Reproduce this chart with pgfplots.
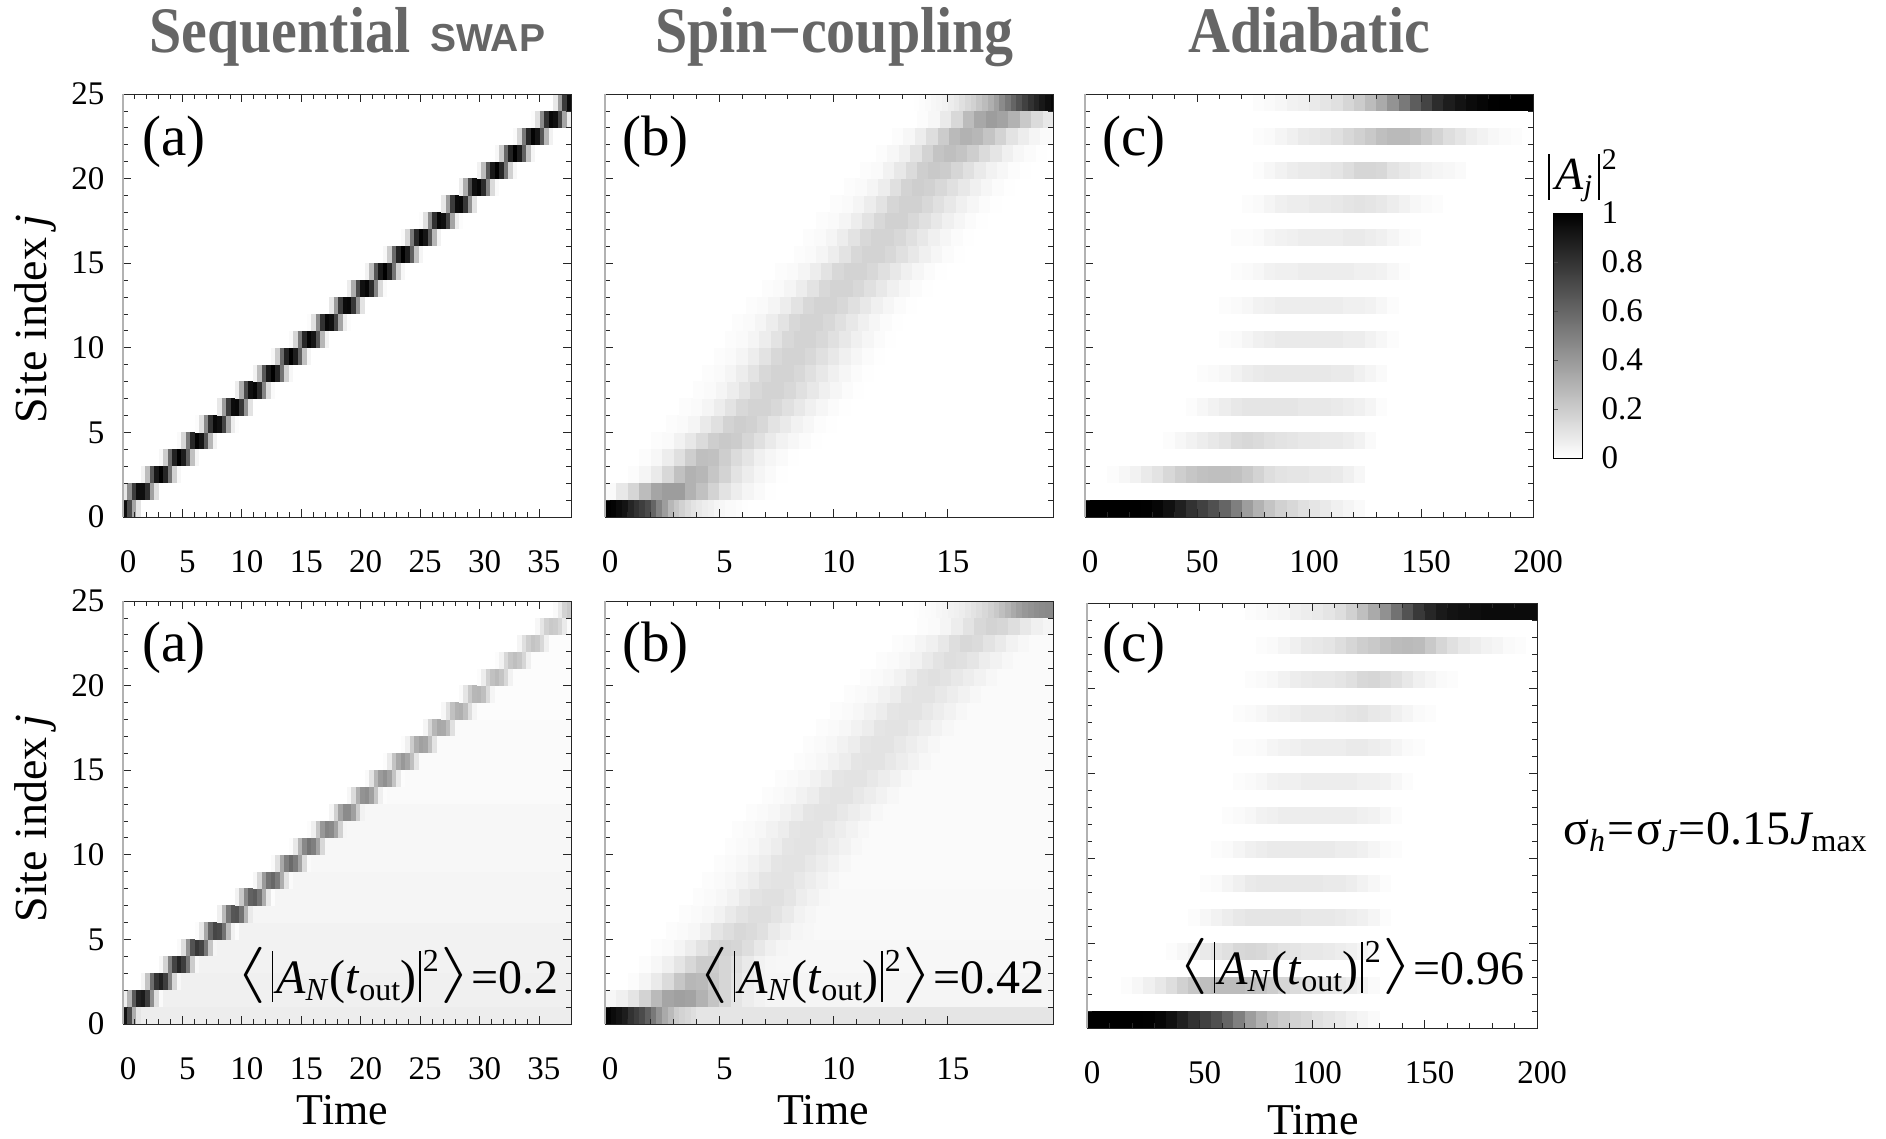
\documentclass[border=0pt]{standalone}
\usepackage{fontspec}
\usepackage{pgfplots}
\pgfplotsset{compat=1.18}
\setmainfont{Liberation Serif}
\newfontfamily\sansf{Liberation Sans}
\newcommand\F[1]{\fontsize{#1}{#1}\selectfont}
\newcommand\lw{17.2pt}
\newcommand\R[4]{\addplot[mesh,shader=flat corner,point meta=explicit,line width=\lw,forget plot] table[x expr={(#2+\coordindex)*#3},y expr={#1+0.5},meta index=0,row sep=crcr]{#4\\};}
\newcommand\B[3]{\addplot[mesh,shader=flat corner,point meta=explicit,line width=\lw,forget plot] coordinates {(#2,#1.5)[#3] (210,#1.5)[#3]};}
\newcommand\Bar{\rule[-8pt]{1.6pt}{51pt}}
\newcommand\Avg[1]{\F{48}\raisebox{4.5pt}{\scalebox{3.2}[2.26]{$\langle$}}\hspace{5pt}\Bar\hspace{3pt}{\itshape A}\raisebox{-7pt}{\F{32}\itshape N}\hspace{3pt}({\itshape t}\raisebox{-7pt}{\F{32}out})\hspace{3pt}\Bar\hspace{2pt}\raisebox{22pt}{\F{32}2}\hspace{2pt}\raisebox{4.5pt}{\scalebox{3.2}[2.26]{$\rangle$}}=#1}
\pgfplotsset{
  colormap={bw}{gray(0cm)=(1); gray(1cm)=(0)},
  /pgf/number format/assume math mode=true,
  tick label style={font=\F{33}},
  panel/.style={scale only axis,axis on top,anchor=south west,xmin=0,ymin=0,ymax=25,
    ytick={0,5,...,25},minor y tick num=4,minor x tick num=4,point meta min=0,point meta max=100,
    tick align=inside,major tick length=8pt,minor tick length=5pt,
    tick style={line width=0.8pt,black!85},axis line style={line width=0.9pt,black!85},
    xticklabel style={anchor=center,yshift=-45pt,xshift=5pt},
    yticklabel style={anchor=east,xshift=-15pt},
    every axis x label/.style={anchor=center,inner sep=0pt,font=\F{44}},
    every axis y label/.style={anchor=center,inner sep=0pt,rotate=90,font=\F{46}},
    extra description/.code={\draw[line width=1.2pt,black!30] (axis description cs:0,0)--(axis description cs:0,1);}},
  ta/.style={xmax=37.7,xtick={0,5,...,35}},
  tb/.style={xmax=19.6,xtick={0,5,10,15}},
  tc/.style={xmax=200,xtick={0,50,...,200}},
}
\begin{document}
\begin{tikzpicture}
\useasboundingbox (0,0) rectangle (1886pt,1139pt);
% ---------- top (a)
\begin{axis}[panel,ta,at={(123pt,622pt)},width=448pt,height=423pt,ylabel={Site index\hspace{10pt}{\itshape j}},
  every axis y label/.append style={at={(axis description cs:-0.195,0.468)}}]
\R{0}{0}{0.377}{94\\70\\35\\10\\0}
\R{1}{0}{0.377}{9\\44\\75\\94\\94\\81\\37\\12\\0}
\R{2}{4}{0.377}{5\\26\\65\\90\\99\\85\\54\\18\\3\\0}
\R{3}{8}{0.377}{3\\20\\58\\86\\100\\88\\62\\24\\4\\0}
\R{4}{12}{0.377}{2\\16\\52\\84\\98\\91\\66\\28\\5\\0}
\R{5}{16}{0.377}{1\\12\\45\\80\\96\\93\\73\\35\\7\\1\\0}
\R{6}{21}{0.377}{9\\38\\76\\95\\96\\78\\42\\11\\0}
\R{7}{25}{0.377}{7\\32\\70\\93\\97\\82\\48\\14\\2\\0}
\R{8}{29}{0.377}{5\\26\\65\\90\\99\\85\\54\\18\\3\\0}
\R{9}{33}{0.377}{3\\20\\58\\86\\100\\88\\62\\24\\4\\0}
\R{10}{37}{0.377}{2\\16\\52\\84\\98\\91\\66\\28\\5\\0}
\R{11}{41}{0.377}{1\\12\\45\\80\\96\\93\\73\\35\\7\\1\\0}
\R{12}{46}{0.377}{9\\38\\76\\95\\96\\78\\42\\11\\0}
\R{13}{50}{0.377}{7\\32\\70\\93\\97\\82\\48\\14\\2\\0}
\R{14}{54}{0.377}{5\\26\\65\\90\\99\\85\\54\\18\\3\\0}
\R{15}{58}{0.377}{3\\20\\58\\86\\100\\88\\62\\24\\4\\0}
\R{16}{62}{0.377}{2\\16\\52\\84\\98\\91\\66\\28\\5\\0}
\R{17}{66}{0.377}{1\\12\\45\\80\\96\\93\\73\\35\\7\\1\\0}
\R{18}{71}{0.377}{9\\38\\76\\95\\96\\78\\42\\11\\0}
\R{19}{75}{0.377}{7\\32\\70\\93\\97\\82\\48\\14\\2\\0}
\R{20}{79}{0.377}{5\\26\\65\\90\\99\\85\\54\\18\\3\\0}
\R{21}{83}{0.377}{3\\20\\58\\86\\100\\88\\62\\24\\4\\0}
\R{22}{87}{0.377}{2\\16\\52\\84\\98\\91\\66\\28\\5\\0}
\R{23}{91}{0.377}{1\\12\\45\\80\\96\\93\\73\\35\\7\\1\\0}
\R{24}{96}{0.377}{9\\38\\76\\95\\0}
\end{axis}
% ---------- top (b)
\begin{axis}[panel,tb,at={(605pt,622pt)},width=448pt,height=423pt,yticklabels={}]
\R{0}{0}{0.25}{100\\98\\95\\92\\85\\80\\75\\70\\60\\48\\38\\28\\22\\18\\14\\11\\9\\7\\6\\4\\3\\2\\2\\1\\0.5\\0}
\R{1}{0}{0.5}{2\\9\\16\\26\\35\\38\\38\\30\\24\\17\\11\\7\\4\\2\\0.5\\0}
\R{2}{2}{0.5}{1\\4\\8\\15\\24\\30\\28\\22\\17\\11\\7\\4\\2\\0.5\\0}
\R{3}{3}{0.5}{1\\3\\7\\12\\19\\25\\24\\19\\14\\10\\6\\3.5\\2\\0.5\\0}
\R{4}{4}{0.5}{1\\2\\5\\9\\14\\19\\21\\20\\16\\12\\8\\5\\3\\1.5\\0.5\\0}
\R{5}{5.3}{0.5}{1\\2\\4\\8\\12\\17\\19\\18\\15\\11\\8\\5\\3\\1\\0.5\\0}
\R{6}{6.5}{0.5}{1\\2\\4\\7\\11\\15\\17\\17\\15\\12\\9\\6\\3.5\\1.5\\0.5\\0}
\R{7}{7.7}{0.5}{1\\2\\4\\7\\11\\15\\17\\17\\15\\12\\9\\6\\3.5\\1.5\\0.5\\0}
\R{8}{8.5}{0.5}{1\\2\\4\\7\\11\\15\\17\\17\\15\\12\\9\\6\\3.5\\1.5\\0.5\\0}
\R{9}{9.5}{0.5}{1\\2\\4\\7\\11\\15\\17\\17\\15\\12\\9\\6\\3.5\\1.5\\0.5\\0}
\R{10}{10.5}{0.5}{1\\2\\4\\7\\11\\15\\17\\17\\15\\12\\9\\6\\3.5\\1.5\\0.5\\0}
\R{11}{11.1}{0.5}{1\\2\\4\\7\\11\\15\\17\\17\\15\\12\\9\\6\\3.5\\1.5\\0.5\\0}
\R{12}{12.3}{0.5}{1\\2\\4\\7\\11\\15\\17\\17\\15\\12\\9\\6\\3.5\\1.5\\0.5\\0}
\R{13}{13.7}{0.5}{1\\2\\4\\7\\11\\15\\17\\17\\15\\12\\9\\6\\3.5\\1.5\\0.5\\0}
\R{14}{14.9}{0.5}{1\\2\\4\\7\\11\\15\\17\\17\\15\\12\\9\\6\\3.5\\1.5\\0.5\\0}
\R{15}{16.5}{0.5}{1\\2\\4\\7\\11\\15\\17\\17\\15\\12\\9\\6\\3.5\\1.5\\0.5\\0}
\R{16}{17.3}{0.5}{1\\2\\4\\7\\11\\15\\17\\17\\15\\12\\9\\6\\3.5\\1.5\\0.5\\0}
\R{17}{18.5}{0.5}{1\\2\\4\\7\\11\\15\\18\\18\\15\\12\\9\\6\\3.5\\1.5\\0.5\\0}
\R{18}{19.7}{0.5}{1\\2\\4\\7\\11\\16\\18\\18\\15\\12\\9\\6\\3.5\\1.5\\0.5\\0}
\R{19}{20.9}{0.5}{1\\2\\4\\7\\12\\17\\19\\18\\15\\12\\9\\6\\3.5\\1.5\\0.5\\0}
\R{20}{22.3}{0.5}{1\\2\\5\\9\\14\\19\\21\\20\\16\\12\\8\\5\\3\\1\\0.5\\0}
\R{21}{23.7}{0.5}{1\\3\\6\\11\\17\\23\\25\\23\\19\\14\\10\\6\\3\\1.5\\0.5\\0}
\R{22}{25.1}{0.5}{1\\3\\7\\13\\20\\27\\30\\28\\23\\17\\11\\7\\4\\2\\0.5\\0}
\R{23}{27.3}{0.5}{1\\3\\8\\15\\26\\34\\38\\36\\30\\21\\14\\9\\5\\2\\0.5\\0}
\R{24}{54}{0.25}{0.5\\1\\2\\3\\4\\5\\7\\9\\12\\15\\18\\22\\26\\31\\37\\45\\52\\60\\67\\74\\80\\85\\90\\94\\97\\100\\100}
\end{axis}
% ---------- top (c)
\begin{axis}[panel,tc,at={(1085pt,622pt)},width=448pt,height=423pt,yticklabels={}]
\R{0}{0}{5}{100\\100\\100\\100\\100\\99\\97\\93\\87\\80\\74\\68\\60\\50\\38\\30\\23\\18\\15\\12\\10\\8\\6\\4\\2\\0}
\R{2}{2}{5}{1\\3\\5\\8\\11\\15\\19\\22\\24\\25\\25\\24\\21\\17\\13\\11\\10\\10\\9\\9\\8\\6\\3\\0}
\R{4}{7}{5}{1\\3\\5\\7\\9\\11\\14\\15\\14\\12\\11\\10\\9\\9\\8\\8\\7\\5\\2\\0}
\R{6}{9}{5}{1\\3\\5\\7\\9\\10\\10\\10\\10\\10\\9\\9\\9\\8\\7\\6\\4\\1\\0}
\R{8}{10}{5}{1\\2\\3\\5\\7\\8\\9\\9\\9\\9\\9\\9\\8\\8\\6\\4\\2\\0}
\R{10}{12}{5}{1\\2\\4\\6\\7\\8\\8\\8\\8\\8\\8\\7\\7\\5\\3\\1\\0}
\R{12}{12}{5}{1\\2\\3\\5\\6\\7\\7\\7\\7\\7\\7\\6\\6\\5\\3\\1\\0}
\R{14}{13}{5}{1\\2\\3\\5\\6\\6\\7\\7\\7\\7\\7\\6\\6\\5\\3\\1\\0}
\R{16}{13}{5}{1\\1\\2\\4\\5\\6\\7\\7\\7\\7\\8\\8\\7\\6\\4\\2\\1\\0}
\R{18}{14}{5}{1\\2\\4\\6\\7\\7\\8\\8\\9\\10\\11\\10\\9\\7\\5\\3\\2\\1\\0}
\R{20}{15}{5}{1\\3\\5\\7\\8\\8\\9\\10\\13\\16\\16\\15\\11\\9\\7\\5\\4\\3\\2\\0}
\R{22}{15}{5}{1\\2\\4\\6\\8\\9\\10\\12\\15\\18\\21\\25\\27\\27\\25\\21\\17\\13\\10\\7\\5\\3\\2\\1\\0}
\R{24}{15}{5}{1\\2\\3\\5\\6\\8\\10\\12\\16\\20\\26\\33\\42\\52\\63\\73\\82\\88\\92\\95\\97\\99\\100\\100\\100\\100}
\end{axis}
% ---------- colour bar
\begin{axis}[scale only axis,axis on top,anchor=south west,at={(1553pt,681pt)},width=29pt,height=245pt,
  xmin=0,xmax=1,ymin=0,ymax=1,xtick=\empty,ytick={0,0.2,0.4,0.6,0.8,1},yticklabels={0,0.2,0.4,0.6,0.8,1},
  ytick pos=left,yticklabel pos=right,tick align=inside,major tick length=5pt,
  yticklabel style={anchor=west,xshift=16pt},point meta min=0,point meta max=100,
  axis line style={line width=0.8pt},tick style={black!70,line width=0.8pt}]
\addplot[surf,shader=interp,mesh/cols=2,point meta=explicit] coordinates {(0,0)[0] (1,0)[0] (0,1)[100] (1,1)[100]};
\end{axis}
% ---------- bottom (a)
\begin{axis}[panel,ta,at={(123pt,115pt)},width=448pt,height=423pt,xlabel={Time},ylabel={Site index\hspace{10pt}{\itshape j}},
  every axis x label/.append style={at={(axis description cs:0.49,-0.203)}},
  every axis y label/.append style={at={(axis description cs:-0.195,0.486)}}]
\B{0}{0.5}{7}\B{1}{1.5}{6}\B{2}{3}{6}\B{3}{4.5}{5}\B{4}{6}{5}\B{5}{7.5}{5}\B{6}{9.4}{4}\B{7}{11}{4}\B{8}{12.5}{4}\B{9}{14}{3}\B{10}{15.5}{3}\B{11}{17}{3}\B{12}{19}{3}\B{13}{20.5}{2}\B{14}{22}{2}\B{15}{23.5}{2}\B{16}{25}{2}\B{17}{26.5}{2}\B{18}{28}{1}\B{19}{30}{1}\B{20}{31.5}{1}\B{21}{33}{1}\B{22}{34.5}{1}
\R{0}{0}{0.377}{92\\70\\32\\10\\0}
\R{1}{0}{0.377}{6\\29\\64\\86\\89\\75\\44\\13\\2\\0}
\R{2}{4}{0.377}{4\\23\\57\\79\\87\\75\\48\\16\\3\\0}
\R{3}{8}{0.377}{3\\17\\49\\73\\85\\75\\53\\20\\3\\0}
\R{4}{12}{0.377}{2\\13\\42\\67\\78\\73\\53\\22\\4\\0}
\R{5}{16}{0.377}{1\\9\\34\\60\\72\\70\\55\\26\\5\\1\\0}
\R{6}{21}{0.377}{6\\27\\53\\66\\67\\55\\29\\8\\0}
\R{7}{25}{0.377}{5\\21\\46\\61\\64\\54\\32\\9\\1\\0}
\R{8}{29}{0.377}{3\\16\\39\\54\\59\\51\\32\\11\\2\\0}
\R{9}{33}{0.377}{2\\12\\34\\50\\58\\51\\36\\14\\2\\0}
\R{10}{37}{0.377}{1\\9\\29\\46\\54\\50\\36\\15\\3\\0}
\R{11}{41}{0.377}{1\\6\\22\\40\\48\\46\\36\\18\\4\\0}
\R{12}{46}{0.377}{4\\18\\36\\45\\45\\37\\20\\5\\0}
\R{13}{50}{0.377}{3\\14\\31\\42\\44\\37\\22\\6\\1\\0}
\R{14}{54}{0.377}{2\\11\\28\\39\\43\\37\\23\\8\\1\\0}
\R{15}{58}{0.377}{1\\8\\23\\34\\40\\35\\25\\10\\2\\0}
\R{16}{62}{0.377}{1\\6\\20\\32\\37\\35\\25\\11\\2\\0}
\R{17}{66}{0.377}{0\\4\\16\\28\\34\\33\\26\\12\\2\\0}
\R{18}{71}{0.377}{3\\12\\24\\30\\31\\25\\13\\4\\0}
\R{19}{75}{0.377}{2\\10\\21\\28\\29\\25\\14\\4\\1\\0}
\R{20}{79}{0.377}{1\\7\\18\\24\\27\\23\\15\\5\\1\\0}
\R{21}{83}{0.377}{1\\5\\15\\22\\25\\22\\16\\6\\1\\0}
\R{22}{87}{0.377}{0\\4\\12\\19\\23\\21\\15\\6\\1\\0}
\R{23}{91}{0.377}{0\\3\\10\\18\\21\\20\\16\\8\\2\\0}
\R{24}{96}{0.377}{2\\8\\17\\21\\21}
\end{axis}
% ---------- bottom (b)
\begin{axis}[panel,tb,at={(605pt,115pt)},width=448pt,height=423pt,xlabel={Time},yticklabels={},
  every axis x label/.append style={at={(axis description cs:0.487,-0.203)}}]
\B{0}{3}{10}\B{1}{5}{4}\B{2}{4}{4}\B{3}{4.5}{3}\B{4}{5}{3}\B{5}{6}{2.5}\B{6}{6.5}{2.5}\B{7}{7}{2.5}\B{8}{7.5}{2}\B{9}{8}{2}\B{10}{8.5}{2}\B{11}{9}{2}\B{12}{9.5}{2}\B{13}{10}{2}\B{14}{10.5}{2}\B{15}{11.5}{2}\B{16}{12}{2}\B{17}{12.5}{2}\B{18}{13}{2}\B{19}{13.5}{2}\B{20}{14.5}{2}\B{21}{15}{2}\B{22}{16}{2}\B{23}{17}{2.5}
\R{0}{0}{0.25}{98\\95\\92\\88\\80\\75\\70\\62\\52\\42\\33\\27\\20\\17\\15\\13\\12}
\R{1}{0}{0.5}{3\\6\\10\\17\\27\\35\\37\\36\\30\\23\\16\\10\\7\\5\\4}
\R{2}{2}{0.5}{1\\4\\8\\14\\22\\28\\27\\21\\16\\11\\7\\5\\4\\4}
\R{3}{3}{0.5}{1\\3\\6\\10\\15\\20\\20\\16\\12\\8\\5\\3.5\\3\\3}
\R{4}{4}{0.5}{1\\2\\4\\7\\11\\15\\17\\16\\13\\9\\6\\4\\3\\3}
\R{5}{5.3}{0.5}{1\\2\\3\\6\\10\\13\\15\\14\\12\\8\\6\\4\\3\\3}
\R{6}{6.5}{0.5}{1\\2\\3\\5\\8\\11\\13\\13\\11\\8\\5\\3.5\\2.5\\2.5}
\R{7}{7.7}{0.5}{1\\2\\3\\5\\8\\11\\12\\12\\10\\7\\5\\3\\2.5\\2.5}
\R{8}{8.5}{0.5}{1\\2\\3\\5\\7\\10\\11\\11\\9\\7\\5\\3\\2\\2}
\R{9}{9.5}{0.5}{1\\2\\3\\5\\7\\10\\11\\11\\9\\7\\5\\3\\2\\2}
\R{10}{10.5}{0.5}{1\\2\\3\\5\\7\\10\\11\\11\\9\\7\\5\\3\\2\\2}
\R{11}{11.1}{0.5}{1\\2\\3\\5\\7\\10\\11\\11\\9\\7\\5\\3\\2\\2}
\R{12}{12.3}{0.5}{1\\2\\3\\5\\7\\10\\11\\11\\9\\7\\5\\3\\2\\2}
\R{13}{13.7}{0.5}{1\\2\\3\\5\\7\\10\\11\\11\\9\\7\\5\\3\\2\\2}
\R{14}{14.9}{0.5}{1\\2\\3\\5\\7\\10\\11\\11\\9\\7\\5\\3\\2\\2}
\R{15}{16.5}{0.5}{1\\2\\3\\5\\7\\10\\11\\11\\9\\7\\5\\3\\2\\2}
\R{16}{17.3}{0.5}{1\\2\\3\\5\\7\\10\\11\\11\\9\\7\\5\\3\\2\\2}
\R{17}{18.5}{0.5}{1\\2\\3\\5\\7\\10\\11\\11\\9\\7\\5\\3\\2\\2}
\R{18}{19.7}{0.5}{1\\2\\3\\5\\7\\10\\11\\11\\9\\7\\5\\3\\2\\2}
\R{19}{20.9}{0.5}{1\\2\\3\\5\\7\\10\\11\\11\\9\\7\\5\\3\\2\\2}
\R{20}{22.3}{0.5}{1\\2\\3\\5\\8\\11\\12\\11\\9\\7\\5\\3\\2\\2}
\R{21}{23.7}{0.5}{1\\2\\3\\5\\8\\11\\13\\12\\10\\7\\5\\3\\2\\2}
\R{22}{25.1}{0.5}{1\\2\\4\\6\\9\\13\\15\\14\\11\\8\\5\\3\\2\\2}
\R{23}{27.3}{0.5}{1\\2\\4\\7\\11\\15\\17\\16\\13\\9\\6\\4\\3\\3}
\R{24}{54}{0.25}{0.5\\1\\1.5\\2\\3\\4\\5\\6\\7\\9\\11\\13\\15\\18\\21\\25\\29\\33\\37\\40\\42\\44\\45\\46\\46\\46}
\end{axis}
% ---------- bottom (c)
\renewcommand\lw{17.4pt}
\begin{axis}[panel,tc,at={(1087pt,111pt)},width=450pt,height=425pt,xlabel={Time},yticklabels={},
  every axis x label/.append style={at={(axis description cs:0.502,-0.216)}}]
\R{0}{0}{5}{100\\100\\100\\100\\100\\99\\97\\93\\87\\80\\74\\68\\60\\50\\38\\30\\24\\20\\17\\15\\12\\10\\8\\6\\4\\2\\0}
\R{2}{3}{5}{1\\3\\6\\9\\13\\18\\22\\25\\26\\26\\26\\25\\23\\20\\16\\14\\12\\11\\10\\9\\7\\5\\2\\0}
\R{4}{7}{5}{1\\3\\5\\8\\10\\12\\15\\16\\15\\13\\11\\10\\9\\9\\8\\7\\6\\4\\2\\0}
\R{6}{9}{5}{1\\3\\5\\7\\9\\10\\10\\10\\10\\10\\9\\9\\9\\8\\7\\6\\4\\1\\0}
\R{8}{10}{5}{1\\2\\4\\6\\8\\9\\9\\9\\9\\9\\9\\8\\8\\7\\5\\3\\1\\0}
\R{10}{11}{5}{1\\2\\4\\6\\7\\8\\8\\8\\8\\8\\8\\7\\7\\6\\4\\2\\1\\0}
\R{12}{12}{5}{1\\2\\3\\5\\6\\7\\7\\7\\7\\7\\7\\7\\6\\5\\3\\1\\0}
\R{14}{13}{5}{1\\2\\3\\5\\6\\6\\7\\7\\7\\7\\7\\6\\6\\5\\3\\1\\0}
\R{16}{13}{5}{1\\1\\2\\4\\5\\6\\7\\7\\7\\7\\8\\8\\7\\6\\4\\2\\1\\0}
\R{18}{13}{5}{1\\2\\3\\5\\6\\7\\8\\8\\8\\9\\10\\11\\9\\8\\6\\4\\2\\1\\0}
\R{20}{14}{5}{1\\2\\3\\5\\7\\8\\9\\9\\10\\12\\15\\16\\14\\12\\9\\6\\4\\2\\1\\0}
\R{22}{15}{5}{1\\2\\4\\6\\8\\9\\10\\13\\16\\19\\21\\24\\26\\27\\26\\21\\16\\12\\9\\7\\5\\4\\2\\1\\0}
\R{24}{14}{5}{1\\2\\3\\4\\6\\7\\8\\10\\13\\18\\25\\33\\43\\55\\67\\77\\84\\89\\92\\93\\94\\95\\95\\95\\95\\95\\95}
\end{axis}
% ---------- text
\node[anchor=base west,inner sep=0,text=black!60] at (149pt,1086pt) {\scalebox{1}[1.12]{\F{58}\bfseries Sequential}};
\node[anchor=base west,inner sep=0,text=black!60] at (430pt,1087pt) {\F{39}\sansf\bfseries SWAP};
\node[anchor=base west,inner sep=0,text=black!60] at (655pt,1086pt) {\scalebox{1}[1.12]{\F{58}\bfseries Spin−coupling}};
\node[anchor=base west,inner sep=0,text=black!60] at (1188pt,1086pt) {\scalebox{1}[1.12]{\F{58}\bfseries Adiabatic}};
\foreach \x/\s in {142/a,622/b,1102/c}{
  \node[anchor=base west,inner sep=0] at (\x pt,983pt) {\F{57}(\s)};
  \node[anchor=base west,inner sep=0] at (\x pt,477pt) {\F{57}(\s)};
}
\node[anchor=base east,inner sep=0] at (559pt,145pt) {\Avg{0.2}};
\node[anchor=base east,inner sep=0] at (1045pt,145pt) {\Avg{0.42}};
\node[anchor=base east,inner sep=0] at (1525pt,154pt) {\Avg{0.96}};
\node[anchor=base west,inner sep=0] at (1548pt,949pt) {\F{46}\rule[-10pt]{1.6pt}{46pt}\hspace{6pt}{\itshape A}\raisebox{-6pt}{\F{30}\itshape j}\hspace{6pt}\rule[-10pt]{1.6pt}{46pt}\hspace{2pt}\raisebox{20pt}{\F{30}2}};
\node[anchor=base west,inner sep=0] at (1563pt,294pt) {\F{48}σ\raisebox{-7pt}{\F{32}\itshape h}\hspace{2pt}=\hspace{2pt}σ\raisebox{-7pt}{\F{32}\itshape J}\hspace{2pt}=\hspace{1pt}0.15{\itshape J}\raisebox{-7pt}{\F{32}max}};
\end{tikzpicture}
\end{document}
